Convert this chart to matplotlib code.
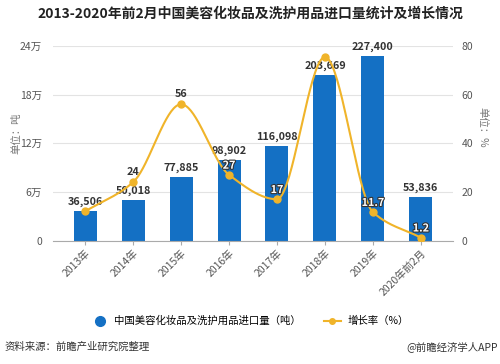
import numpy as np
import matplotlib
matplotlib.use("Agg")
import matplotlib.pyplot as plt
import matplotlib.patheffects as pe
from matplotlib.lines import Line2D

plt.rcParams['font.family'] = ['Noto Sans CJK SC', 'DejaVu Sans']

# 数据
years = ['2013年', '2014年', '2015年', '2016年', '2017年', '2018年', '2019年', '2020年前2月']
volume = [36506, 50018, 77885, 98902, 116098, 203669, 227400, 53836]
growth = [12, 24, 56, 27, 17, 75.4, 11.7, 1.2]
growth_labels = ['', '24', '56', '27', '17', '', '11.7', '1.2']
growth_on_bar = [False, False, False, True, True, False, True, True]

BAR_COLOR = '#1470c4'
LINE_COLOR = '#f0b42a'
TEXT_COLOR = '#333333'
TICK_COLOR = '#555555'


def monotone_curve(x, y, n=40):
    """单调三次插值，只用于画平滑线（Fritsch-Carlson）"""
    x = np.asarray(x, float)
    y = np.asarray(y, float)
    h = np.diff(x)
    d = np.diff(y) / h
    m = np.zeros_like(y)
    m[0], m[-1] = d[0], d[-1]
    for i in range(1, len(y) - 1):
        if d[i - 1] * d[i] > 0:
            m[i] = 2 / (1 / d[i - 1] + 1 / d[i])
    xs, ys = [], []
    for i in range(len(h)):
        t = np.linspace(0, 1, n)
        h00 = 2 * t ** 3 - 3 * t ** 2 + 1
        h10 = t ** 3 - 2 * t ** 2 + t
        h01 = -2 * t ** 3 + 3 * t ** 2
        h11 = t ** 3 - t ** 2
        xs.append(x[i] + t * h[i])
        ys.append(h00 * y[i] + h10 * h[i] * m[i] + h01 * y[i + 1] + h11 * h[i] * m[i + 1])
    return np.concatenate(xs), np.concatenate(ys)


fig = plt.figure(figsize=(5.0, 3.64), dpi=100)
ax = fig.add_axes([0.106, 0.339, 0.80, 0.535])
ax2 = ax.twinx()

x = np.arange(len(years))

# 柱状图
ax.bar(x, volume, width=0.48, color=BAR_COLOR, zorder=2)
for xi, v in zip(x, volume):
    ax.annotate(f'{v:,}', (xi, v), xytext=(0, 3), textcoords='offset points',
                ha='center', va='bottom', fontsize=7.8, fontweight='bold',
                color=TEXT_COLOR, zorder=5)

ax.set_xlim(-0.67, len(years) - 0.33)
ax.set_ylim(0, 240000)
yt = [0, 60000, 120000, 180000, 240000]
ax.set_yticks(yt)
ax.set_yticklabels(['0', '6万', '12万', '18万', '24万'])
ax.grid(axis='y', color='#e3e3e3', linewidth=0.8, zorder=0)
ax.set_axisbelow(True)
ax.set_xticks(x)
ax.set_xticklabels(years, rotation=45, ha='right', rotation_mode='anchor')
ax.tick_params(axis='x', length=3, color='#aaaaaa', labelsize=7.5,
               labelcolor=TICK_COLOR, pad=2)
ax.tick_params(axis='y', length=0, labelsize=7.5, labelcolor=TICK_COLOR, pad=8)
for s in ['top', 'right', 'left']:
    ax.spines[s].set_visible(False)
ax.spines['bottom'].set_color('#aaaaaa')
ax.set_ylabel('单位：吨', fontsize=7.5, color='#777777')
ax.yaxis.set_label_coords(-0.078, 0.55)

# 增长率折线
sx, sy = monotone_curve(x, growth)
ax2.plot(sx, sy, color=LINE_COLOR, linewidth=1.5, zorder=3)
ax2.plot(x, growth, 'o', color=LINE_COLOR, markersize=5, zorder=4)
for xi, g, lab, onbar in zip(x, growth, growth_labels, growth_on_bar):
    if not lab:
        continue
    if onbar:
        t = ax2.annotate(lab, (xi, g), xytext=(0, 3), textcoords='offset points',
                         ha='center', va='bottom', fontsize=7.8, fontweight='bold',
                         color='white', zorder=6)
        t.set_path_effects([pe.withStroke(linewidth=1.6, foreground='#333333')])
    else:
        ax2.annotate(lab, (xi, g), xytext=(0, 4), textcoords='offset points',
                     ha='center', va='bottom', fontsize=7.8, fontweight='bold',
                     color=TEXT_COLOR, zorder=6)

ax2.set_ylim(0, 80)
ax2.set_yticks([0, 20, 40, 60, 80])
ax2.tick_params(axis='y', length=0, labelsize=7.5, labelcolor=TICK_COLOR, pad=6)
for s in ['top', 'right', 'left', 'bottom']:
    ax2.spines[s].set_visible(False)
ax2.set_ylabel('单位：%', fontsize=7.5, color='#777777', rotation=270)
ax2.yaxis.set_label_coords(1.085, 0.58)

# 标题
fig.text(0.5, 0.962, '2013-2020年前2月中国美容化妆品及洗护用品进口量统计及增长情况',
         ha='center', va='center', fontsize=10, fontweight='bold', color='#222222')

# 图例
handles = [
    Line2D([], [], marker='o', linestyle='none', color=BAR_COLOR, markersize=7),
    Line2D([], [], marker='o', color=LINE_COLOR, markersize=4, linewidth=1.5),
]
fig.legend(handles, ['中国美容化妆品及洗护用品进口量（吨）', '增长率（%）'],
           loc='center', bbox_to_anchor=(0.5, 0.118), ncol=2, frameon=False,
           fontsize=7.5, handlelength=1.6, columnspacing=2.2, handletextpad=0.6)

# 来源
fig.text(0.01, 0.047, '资料来源：前瞻产业研究院整理', ha='left', va='center',
         fontsize=7.5, color='#333333')
fig.text(0.995, 0.047, '@前瞻经济学人APP', ha='right', va='center',
         fontsize=7.5, color='#333333')

fig.savefig('out.png', dpi=100)
